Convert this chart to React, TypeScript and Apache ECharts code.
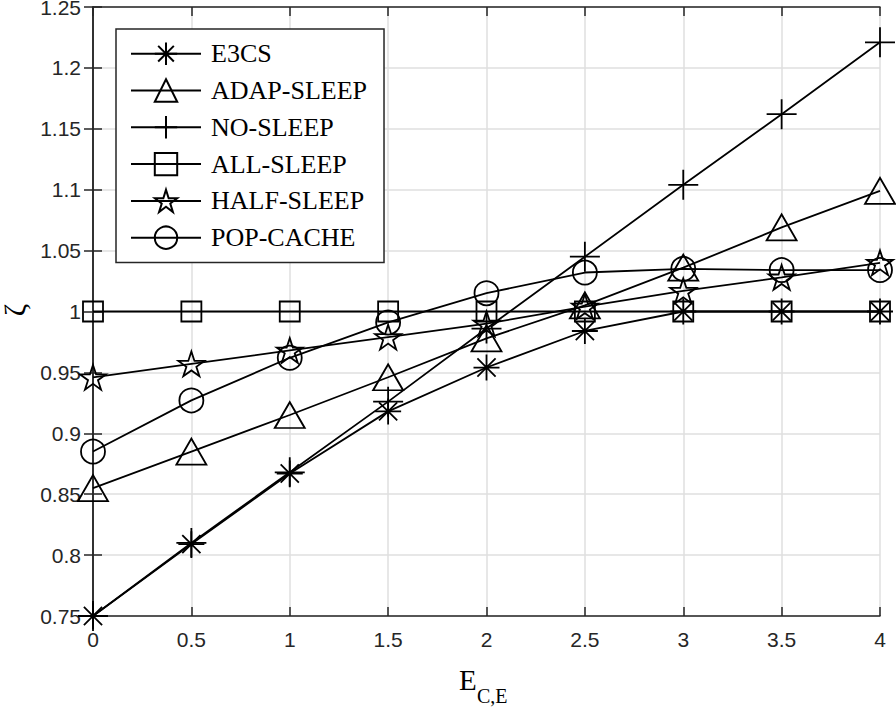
import React, { useEffect, useRef } from "react";
import * as echarts from "echarts";

const xValues = [0, 0.5, 1, 1.5, 2, 2.5, 3, 3.5, 4];
const e3cs = [0.75, 0.809, 0.867, 0.918, 0.954, 0.984, 1.0, 1.0, 1.0];
const adapSleep = [0.855, 0.885, 0.915, 0.946, 0.978, 1.005, 1.036, 1.069, 1.099];
const noSleep = [0.75, 0.81, 0.868, 0.926, 0.986, 1.045, 1.104, 1.162, 1.221];
const allSleep = [1.0, 1.0, 1.0, 1.0, 1.0, 1.0, 1.0, 1.0, 1.0];
const halfSleep = [0.946, 0.957, 0.968, 0.979, 0.99, 1.004, 1.017, 1.028, 1.04];
const popCache = [0.885, 0.927, 0.962, 0.991, 1.015, 1.032, 1.035, 1.034, 1.034];
const seriesNames = ["E3CS", "ADAP-SLEEP", "NO-SLEEP", "ALL-SLEEP", "HALF-SLEEP", "POP-CACHE"];

const ASTERISK = "path://M0,-10L0,10M-10,0L10,0M-7,-7L7,7M-7,7L7,-7";
const PLUS = "path://M0,-10L0,10M-10,0L10,0";
const STAR =
  "path://M0,-10L2.245,-3.09L9.51,-3.09L3.633,1.18L5.878,8.09L0,3.82L-5.878,8.09L-3.633,1.18L-9.51,-3.09L-2.245,-3.09Z";

export default function App() {
  const ref = useRef<HTMLDivElement>(null);
  useEffect(() => {
    document.body.style.margin = "0";
    const chart = echarts.init(ref.current!, undefined, { renderer: "svg" });
    const axisColor = "#262626";
    const mk = (name: string, data: number[], symbol: string, size: any, keep = false) => ({
      name,
      type: "line",
      data: xValues.map((x, i) => [x, data[i]]),
      symbol,
      symbolSize: size,
      symbolKeepAspect: keep,
      showAllSymbol: true,
      clip: false,
      lineStyle: { color: "#000", width: 1.8 },
      itemStyle: { color: "none", borderColor: "#000", borderWidth: 1.8 },
      emphasis: { disabled: true },
      z: 3,
    });
    const dataSets = [e3cs, adapSleep, noSleep, allSleep, halfSleep, popCache];
    const symbols: any[] = [
      [ASTERISK, 26, true],
      ["triangle", [30, 26], false],
      [PLUS, 30, true],
      ["rect", 20, false],
      [STAR, 26, true],
      ["circle", 24, false],
    ];
    chart.setOption({
      animation: false,
      backgroundColor: "#fff",
      grid: { left: 93, right: 16, top: 7, bottom: 94, containLabel: false, outerBoundsMode: "none" },
      legend: {
        orient: "vertical",
        left: 116,
        top: 29,
        data: seriesNames,
        itemWidth: 70,
        itemHeight: 28,
        itemGap: 9.4,
        padding: [11, 17, 11, 14],
        backgroundColor: "#fff",
        borderColor: axisColor,
        borderWidth: 1.5,
        borderRadius: 0,
        selectedMode: false,
        textStyle: {
          fontFamily: "Liberation Serif",
          fontSize: 26,
          color: "#000",
          padding: [0, 0, 0, 5],
        },
        z: 10,
      },
      xAxis: [
        {
          type: "value",
          min: 0,
          max: 4,
          interval: 0.5,
          axisLine: { show: true, lineStyle: { color: axisColor, width: 1.5 } },
          axisTick: { show: true, inside: true, length: 9, lineStyle: { color: axisColor, width: 1.5 } },
          axisLabel: { fontFamily: "Liberation Sans", fontSize: 21, color: axisColor, margin: 13 },
          splitLine: { show: true, lineStyle: { color: "#dfdfdf", width: 1.5 } },
        },
        {
          type: "value",
          position: "top",
          min: 0,
          max: 4,
          interval: 0.5,
          axisLine: { show: true, lineStyle: { color: axisColor, width: 1.5 } },
          axisTick: { show: true, inside: true, length: 9, lineStyle: { color: axisColor, width: 1.5 } },
          axisLabel: { show: false },
          splitLine: { show: false },
        },
      ],
      yAxis: [
        {
          type: "value",
          min: 0.75,
          max: 1.25,
          interval: 0.05,
          axisLine: { show: true, lineStyle: { color: axisColor, width: 1.5 } },
          axisTick: { show: true, inside: true, length: 9, lineStyle: { color: axisColor, width: 1.5 } },
          axisLabel: { fontFamily: "Liberation Sans", fontSize: 21, color: axisColor, margin: 12 },
          splitLine: { show: true, lineStyle: { color: "#dfdfdf", width: 1.5 } },
        },
        {
          type: "value",
          position: "right",
          min: 0.75,
          max: 1.25,
          interval: 0.05,
          axisLine: { show: true, lineStyle: { color: axisColor, width: 1.5 } },
          axisTick: { show: true, inside: true, length: 9, lineStyle: { color: axisColor, width: 1.5 } },
          axisLabel: { show: false },
          splitLine: { show: false },
        },
      ],
      graphic: [
        {
          type: "group",
          x: 14,
          y: 310,
          rotation: Math.PI / 2,
          children: [
            {
              type: "text",
              x: 0,
              y: 0,
              style: {
                text: "ζ",
                fontFamily: "Liberation Serif",
                fontSize: 30,
                fill: "#000",
                align: "center",
                verticalAlign: "middle",
              },
            },
          ],
        },
        {
          type: "text",
          left: 459,
          top: 665,
          style: { text: "E", fontFamily: "Liberation Serif", fontSize: 29, fill: "#000" },
        },
        {
          type: "text",
          left: 477,
          top: 686,
          style: { text: "C,E", fontFamily: "Liberation Serif", fontSize: 20, fill: "#000" },
        },
      ],
      series: seriesNames.map((n, i) => mk(n, dataSets[i], symbols[i][0], symbols[i][1], symbols[i][2])),
    });
    return () => chart.dispose();
  }, []);
  return <div ref={ref} style={{ width: 896, height: 710, position: "absolute", left: 0, top: 0 }} />;
}
